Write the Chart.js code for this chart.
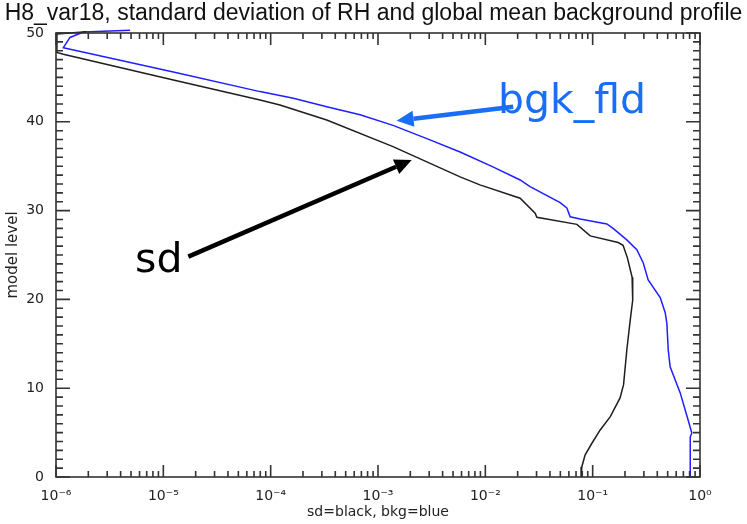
<!DOCTYPE html>
<html><head><meta charset="utf-8">
<script src="https://cdn.jsdelivr.net/npm/chart.js@4.4.0/dist/chart.umd.min.js"></script>
<style>html,body{margin:0;padding:0;background:#fff}#wrap{width:747px;height:524px}</style>
</head><body><div id="wrap"><canvas id="c" width="747" height="524"></canvas></div>
<script>
const titleText = 'H8_var18, standard deviation of RH and global mean background profile';
const xAxisTitle = 'sd=black, bkg=blue';
const yAxisTitle = 'model level';
const xTickValues = [1e-6, 1e-5, 1e-4, 1e-3, 1e-2, 1e-1, 1];
const yTickValues = [0, 10, 20, 30, 40, 50];
const xMinorMultipliers = [2, 3, 4, 5, 6, 7, 8, 9];

// background (blue) profile
const bkgLevels = [50.3, 50.1, 49.5, 48.35, 45.6, 43.4, 42.65, 41.7, 40.8, 39.6, 38.1, 36.6, 34.9, 33.45, 32.7, 30.9, 30.3, 29.3, 29.05, 28.5, 28.0, 26.7, 25.6, 24.1, 22.2, 20.2, 18.5, 17.3, 14.3, 12.4, 9.5, 6.4, 4.95, 4.5, 0];
const bkgValues = [4.9e-6, 1.8e-6, 1.35e-6, 1.17e-6, 1.24e-5, 7.96e-5, 1.63e-4, 3.33e-4, 6.81e-4, 1.38e-3, 2.85e-3, 5.82e-3, 0.0119, 0.0211, 0.0261, 0.0498, 0.0575, 0.0617, 0.0764, 0.1355, 0.155, 0.208, 0.258, 0.296, 0.329, 0.426, 0.474, 0.491, 0.506, 0.527, 0.653, 0.776, 0.839, 0.811, 0.811];

// standard deviation (black) profile
const sdLevels = [50.15, 49.9, 47.8, 47.6, 44.7, 42.45, 41.9, 40.2, 37.2, 33.8, 32.9, 31.4, 29.7, 29.25, 28.45, 27.15, 26.4, 26.1, 24.65, 22.5, 19.9, 17.7, 14.3, 10.4, 8.9, 6.8, 5.3, 3.8, 2.5, 1.16, 0];
const sdValues = [1.93e-6, 1.02e-6, 1.02e-6, 1.17e-6, 1.24e-5, 7.96e-5, 1.22e-4, 3.33e-4, 1.38e-3, 5.82e-3, 8.9e-3, 0.0211, 0.0291, 0.0302, 0.0713, 0.0948, 0.173, 0.192, 0.211, 0.233, 0.236, 0.224, 0.208, 0.194, 0.180, 0.146, 0.1175, 0.0984, 0.0851, 0.0793, 0.078];

// hand-drawn annotations (data coordinates)
const noteLabels = ['bgk_fld', 'sd'];
const noteColors = ['#1a6ef5', '#000000'];
const noteTextX = [0.0131, 5.45e-6];
const noteTextY = [40.96, 23.12];
const arrowFromX = [0.0182, 1.71e-5];
const arrowFromY = [41.7, 24.81];
const arrowToX = [1.49e-3, 2.06e-3];
const arrowToY = [40.12, 35.7];

const SUP = {'-':'\u207B','0':'\u2070','1':'\u00B9','2':'\u00B2','3':'\u00B3','4':'\u2074','5':'\u2075','6':'\u2076','7':'\u2077','8':'\u2078','9':'\u2079'};
function fmtPow(v) {
  const e = String(Math.round(Math.log10(v)));
  return '10' + e.split('').map(c => SUP[c]).join('');
}

const framePlugin = {
  id: 'frame',
  afterDatasetsDraw(chart) {
    const {ctx, chartArea: a, scales: {x, y}} = chart;
    ctx.save();
    ctx.strokeStyle = '#333';
    ctx.lineWidth = 1.6;
    ctx.strokeRect(a.left, a.top, a.right - a.left, a.bottom - a.top);
    ctx.beginPath();
    xTickValues.forEach((d, i) => {
      const px = x.getPixelForValue(d);
      ctx.moveTo(px, a.bottom); ctx.lineTo(px, a.bottom - 12);
      ctx.moveTo(px, a.top); ctx.lineTo(px, a.top + 12);
      if (i < xTickValues.length - 1) {
        xMinorMultipliers.forEach(m => {
          const p = x.getPixelForValue(m * d);
          ctx.moveTo(p, a.bottom); ctx.lineTo(p, a.bottom - 6);
          ctx.moveTo(p, a.top); ctx.lineTo(p, a.top + 6);
        });
      }
    });
    for (let l = y.min; l <= y.max; l++) {
      const py = y.getPixelForValue(l);
      const len = (l % 10 === 0) ? 14 : 7;
      ctx.moveTo(a.left, py); ctx.lineTo(a.left + len, py);
      ctx.moveTo(a.right, py); ctx.lineTo(a.right - len, py);
    }
    ctx.stroke();
    ctx.restore();
  },
  afterDraw(chart) {
    const {ctx, scales: {x, y}} = chart;
    ctx.save();
    noteLabels.forEach((t, i) => {
      const col = noteColors[i];
      const x1 = x.getPixelForValue(arrowFromX[i]), y1 = y.getPixelForValue(arrowFromY[i]);
      const x2 = x.getPixelForValue(arrowToX[i]), y2 = y.getPixelForValue(arrowToY[i]);
      const ang = Math.atan2(y2 - y1, x2 - x1);
      const head = 17, hw = 8;
      const bx = x2 - head * Math.cos(ang), by = y2 - head * Math.sin(ang);
      ctx.strokeStyle = col; ctx.fillStyle = col; ctx.lineWidth = 4.5; ctx.lineCap = 'butt';
      ctx.beginPath(); ctx.moveTo(x1, y1); ctx.lineTo(bx, by); ctx.stroke();
      ctx.beginPath();
      ctx.moveTo(x2, y2);
      ctx.lineTo(bx + hw * Math.sin(ang), by - hw * Math.cos(ang));
      ctx.lineTo(bx - hw * Math.sin(ang), by + hw * Math.cos(ang));
      ctx.closePath(); ctx.fill();
      ctx.font = '41px "DejaVu Sans"';
      ctx.textAlign = 'left'; ctx.textBaseline = 'alphabetic';
      ctx.fillText(t, x.getPixelForValue(noteTextX[i]), y.getPixelForValue(noteTextY[i]));
    });
    ctx.restore();
  }
};

const toPts = (vals, levs) => vals.map((v, i) => ({x: v, y: levs[i]}));

new Chart(document.getElementById('c'), {
  type: 'scatter',
  data: {
    datasets: [
      {label: 'sd', data: toPts(sdValues, sdLevels), showLine: true, borderColor: '#1e1e1e', borderWidth: 1.5, pointRadius: 0, clip: false},
      {label: 'bkg', data: toPts(bkgValues, bkgLevels), showLine: true, borderColor: '#1f1fff', borderWidth: 1.5, pointRadius: 0, clip: false}
    ]
  },
  options: {
    responsive: false, animation: false, devicePixelRatio: 1,
    layout: {padding: 0},
    plugins: {
      legend: {display: false}, tooltip: {enabled: false},
      title: {display: true, text: titleText, color: '#111', font: {family: 'Liberation Sans', size: 23, weight: 'normal'}, padding: {top: 0, bottom: 5.4}}
    },
    scales: {
      x: {
        type: 'logarithmic', position: 'bottom', min: 1e-6, max: 1,
        grid: {display: false}, border: {display: false},
        afterBuildTicks(s) { s.ticks = xTickValues.map(v => ({value: v})); },
        afterFit(s) { s.height = 47; },
        ticks: {autoSkip: false, maxRotation: 0, minRotation: 0, padding: 3, color: '#222', font: {family: 'DejaVu Sans', size: 14}, callback: v => fmtPow(v)},
        title: {display: true, text: xAxisTitle, color: '#222', font: {family: 'DejaVu Sans', size: 14}, padding: {top: 0, bottom: 3.6}}
      },
      y: {
        type: 'linear', position: 'left', min: 0, max: 50,
        grid: {display: false}, border: {display: false},
        afterBuildTicks(s) { s.ticks = yTickValues.map(v => ({value: v})); },
        afterFit(s) { s.width = 56; },
        ticks: {padding: 4, color: '#222', font: {family: 'DejaVu Sans', size: 14}},
        title: {display: true, text: yAxisTitle, color: '#222', font: {family: 'DejaVu Sans', size: 15}, padding: {top: 4, bottom: 0}}
      },
      y2: {
        type: 'linear', position: 'right', min: 0, max: 50, display: true,
        grid: {display: false}, border: {display: false},
        ticks: {display: false},
        afterFit(s) { s.width = 47; }
      }
    }
  },
  plugins: [framePlugin]
});
</script>
</body></html>
